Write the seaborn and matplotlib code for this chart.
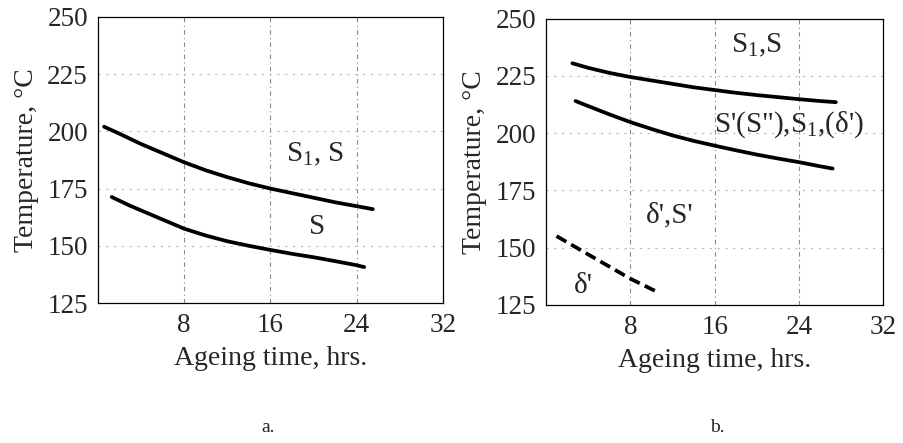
import matplotlib
matplotlib.use("Agg")
import matplotlib.pyplot as plt
import seaborn as sns
import pandas as pd

sns.set_theme(style="white")
plt.rcParams['font.family'] = ['Liberation Serif', 'DejaVu Serif']
plt.rcParams['mathtext.default'] = 'regular'

# ---- data (panel a) ----
a_upper_x = [0.6, 2, 4, 6, 8, 10, 12, 14, 16, 18, 20, 22, 24, 25.5]
a_upper_y = [202, 199, 194.5, 190.5, 186.5, 183, 180, 177.3, 175, 173, 171, 169, 167.3, 166]
a_lower_x = [1.3, 3, 5, 8, 10, 12, 14, 16, 18, 20, 22, 24, 24.7]
a_lower_y = [171.3, 167.5, 163.5, 157.5, 154.5, 152, 150, 148.2, 146.5, 145, 143.3, 141.5, 140.7]

# ---- data (panel b) ----
b_upper_x = [2.5, 4, 6, 8, 10, 12, 14, 16, 18, 20, 22, 24, 26, 27.5]
b_upper_y = [230.5, 228.5, 226.3, 224.5, 223, 221.5, 220, 218.8, 217.6, 216.6, 215.7, 214.8, 214, 213.5]
b_mid_x = [2.8, 4, 6, 8, 10, 12, 14, 16, 18, 20, 22, 24, 26, 27.2]
b_mid_y = [214, 211.8, 208.2, 204.8, 201.8, 199, 196.6, 194.5, 192.5, 190.6, 188.9, 187.3, 185.5, 184.5]
b_dash_x = [1.0, 4, 8, 10.6]
b_dash_y = [155, 147, 136.4, 130.5]

xticks = [8, 16, 24, 32]
yticks = [125, 150, 175, 200, 225, 250]

fig = plt.figure(figsize=(9.04, 4.43), dpi=100)
axA = fig.add_axes([0.108, 0.316, 0.382, 0.646])
axB = fig.add_axes([0.604, 0.312, 0.373, 0.646])

def df(x, y):
    return pd.DataFrame({"x": x, "y": y})

tick_fs = 19.5
lab_fs = 20
ann_fs = 21

def style(ax):
    ax.set_xlim(0, 32)
    ax.set_ylim(125, 250)
    ax.set_xticks(xticks)
    ax.set_yticks(yticks)
    ax.set_xticklabels([str(t) for t in xticks], fontsize=tick_fs)
    ax.set_yticklabels([str(t) for t in yticks], fontsize=tick_fs)
    ax.tick_params(length=0, pad=7)
    for s in ax.spines.values():
        s.set_color("black")
        s.set_linewidth(0.9)
    for t in [8, 16, 24]:
        ax.axvline(t, color="#888888", lw=0.8, ls=(0, (4, 3, 1, 3)), zorder=0)
    for t in [150, 175, 200, 225]:
        ax.axhline(t, color="#bbbbbb", lw=0.8, ls=(0, (2, 5)), zorder=0)
    ax.set_xlabel("Ageing time, hrs.", fontsize=lab_fs, labelpad=6)
    ax.set_ylabel("Temperature, °C", fontsize=lab_fs, labelpad=6)

lw = 2.7
sns.lineplot(data=df(a_upper_x, a_upper_y), x="x", y="y", ax=axA, color="black", lw=lw)
sns.lineplot(data=df(a_lower_x, a_lower_y), x="x", y="y", ax=axA, color="black", lw=lw)
style(axA)
axA.text(20.2, 190, "S$_1$, S", fontsize=ann_fs, ha="center", va="center")
axA.text(20.3, 158, "S", fontsize=ann_fs, ha="center", va="center")

sns.lineplot(data=df(b_upper_x, b_upper_y), x="x", y="y", ax=axB, color="black", lw=lw)
sns.lineplot(data=df(b_mid_x, b_mid_y), x="x", y="y", ax=axB, color="black", lw=lw)
sns.lineplot(data=df(b_dash_x, b_dash_y), x="x", y="y", ax=axB, color="black", lw=lw,
             linestyle=(0, (3, 1.5)))
style(axB)
axB.text(20, 238.5, "S$_1$,S", fontsize=ann_fs, ha="center", va="center")
axB.text(23.1, 203.5, "S'(S\"),S$_1$,(δ')", fontsize=ann_fs, ha="center", va="center")
axB.text(11.7, 164, "δ',S'", fontsize=ann_fs, ha="center", va="center")
axB.text(3.5, 133, "δ'", fontsize=ann_fs, ha="center", va="center")

fig.text(268 / 904, 1 - 428 / 443, "a.", fontsize=14, ha="center", va="center")
fig.text(717 / 904, 1 - 428 / 443, "b.", fontsize=14, ha="center", va="center")

fig.savefig("out.png", dpi=100)
